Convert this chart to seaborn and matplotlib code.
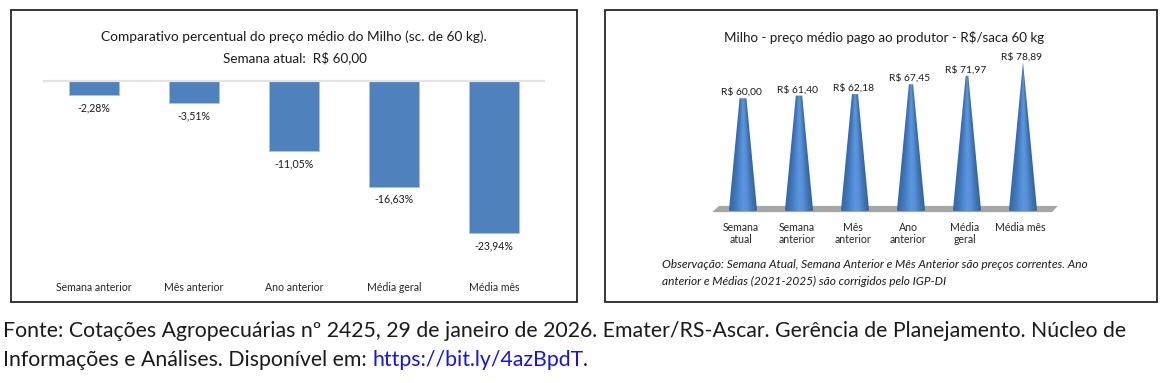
import numpy as np
import pandas as pd
import matplotlib
matplotlib.use('Agg')
import matplotlib.pyplot as plt
from matplotlib.colors import LinearSegmentedColormap
from matplotlib.patches import Polygon, Rectangle
from matplotlib.transforms import ScaledTranslation
import seaborn as sns

# values
pct_labels = ['Semana anterior', 'Mês anterior', 'Ano anterior', 'Média geral', 'Média mês']
pct_values = [-2.28, -3.51, -11.05, -16.63, -23.94]
price_labels = ['Semana\natual', 'Semana\nanterior', 'Mês\nanterior', 'Ano\nanterior', 'Média\ngeral', 'Média mês']
price_values = [60.00, 61.40, 62.18, 67.45, 71.97, 78.89]

W, H = 1170, 383

sns.set_theme(style='white')
plt.rcParams['font.family'] = ['Lato', 'DejaVu Sans']
plt.rcParams['text.color'] = '#1a1a1a'


def px_axes(fig, x0, y0, x1, y1):
    # pixel box, y measured from the top of the image
    return fig.add_axes([x0 / W, 1 - y1 / H, (x1 - x0) / W, (y1 - y0) / H])


def br(v, prefix='', suffix=''):
    return prefix + f'{v:.2f}'.replace('.', ',') + suffix


fig = plt.figure(figsize=(W / 100, H / 100), dpi=100, facecolor='white')

# panel frames
for x0, x1 in [(11, 577), (605, 1157)]:
    fig.add_artist(Rectangle((x0 / W, 1 - 302 / H), (x1 - x0) / W, 292 / H,
                             transform=fig.transFigure, fill=False,
                             edgecolor='#262626', linewidth=1.3))

# ---- left chart
ax = px_axes(fig, 44, 81, 544, 275)
df = pd.DataFrame({'cat': pct_labels, 'val': pct_values})
sns.barplot(data=df, x='cat', y='val', color='#4f81bd', saturation=1, width=0.5,
            edgecolor='#a9c3e2', linewidth=0.6, ax=ax)
ax.set_ylim(-30.55, 0)
ax.set_xlim(-0.5, 4.5)
ax.set_xlabel('')
ax.set_ylabel('')
ax.set_yticks([])
ax.tick_params(axis='x', length=0, labelsize=7.6, pad=5)
for s in ['left', 'right', 'bottom']:
    ax.spines[s].set_visible(False)
ax.spines['top'].set_color('#e4e4e4')
ax.spines['top'].set_linewidth(1.6)
ax.patch.set_alpha(0)
ax.bar_label(ax.containers[0], labels=[br(v, suffix='%') for v in pct_values],
             padding=5, fontsize=7.6)

fig.text(294 / W, 1 - 37 / H, 'Comparativo percentual do preço médio do Milho (sc. de 60 kg).',
         ha='center', va='center', fontsize=9.85)
fig.text(295 / W, 1 - 58 / H, 'Semana atual:  R$ 60,00', ha='center', va='center', fontsize=9.75)

# ---- right chart
ax2 = px_axes(fig, 715, 55, 1051, 211)
df2 = pd.DataFrame({'cat': price_labels, 'val': price_values})
sns.barplot(data=df2, x='cat', y='val', color='#4f81bd', width=0.5, alpha=0, ax=ax2)
ax2.set_xlim(-0.5, 5.5)
ax2.set_ylim(0, 83)
ax2.set_xlabel('')
ax2.set_ylabel('')
ax2.set_yticks([])
ax2.tick_params(axis='x', length=0, labelsize=7.6, pad=8)
shift = ScaledTranslation(-2.5 / 100, 0, fig.dpi_scale_trans)
for lab in ax2.get_xticklabels():
    lab.set_verticalalignment('top')
    lab.set_linespacing(1.15)
    lab.set_transform(lab.get_transform() + shift)
sns.despine(ax=ax2, left=True, bottom=True)
ax2.patch.set_alpha(0)

# grey floor under the cones
ax2.add_patch(Polygon([(-0.55, -0.6), (5.52, -0.6), (5.62, 2.7), (-0.43, 2.7)],
                      closed=True, facecolor='#a6a6a6', edgecolor='none',
                      clip_on=False, zorder=1))

cone_cmap = LinearSegmentedColormap.from_list(
    'cone', ['#3567a8', '#4074b8', '#4d86cc', '#5c96de', '#588fd6', '#4277b8', '#3465a0'])
tip = max(price_values) * 1.005
half_base = 0.25
for patch, v in zip(ax2.patches, price_values):
    c = patch.get_x() + patch.get_width() / 2
    top_half = half_base * (1 - v / tip)
    # outline: tapered sides with a rounded foot
    arc = np.linspace(np.pi, 2 * np.pi, 30)
    foot = np.column_stack([c + half_base * np.cos(arc), 0.6 + 1.6 * np.sin(arc)])
    outline = np.vstack([foot, [c + top_half, v], [c - top_half, v]])
    clip = Polygon(outline, closed=True, transform=ax2.transData, facecolor='none', edgecolor='none')
    ax2.add_patch(clip)
    # shading follows the taper, so each row runs edge to edge
    yy, xx = np.mgrid[1:0:200j, -half_base:half_base:100j]
    half_row = half_base - (half_base - top_half) * yy
    shade = np.clip((xx / half_row + 1) / 2, 0, 1)
    im = ax2.imshow(shade, cmap=cone_cmap, vmin=0, vmax=1, aspect='auto', zorder=3,
                    extent=(c - half_base, c + half_base, -1.1, v), interpolation='bilinear')
    im.set_clip_path(clip)
    ax2.annotate(br(v, prefix='R$ '), (c - 0.03, v), xytext=(0, 1), textcoords='offset points',
                 ha='center', va='bottom', fontsize=7.4, annotation_clip=False)
ax2.set_xlim(-0.5, 5.5)
ax2.set_ylim(0, 83)

fig.text(884 / W, 1 - 37 / H, 'Milho - preço médio pago ao produtor - R$/saca 60 kg',
         ha='center', va='center', fontsize=9.6)
fig.text(662 / W, 1 - 265 / H, 'Observação: Semana Atual, Semana Anterior e Mês Anterior são preços correntes. Ano',
         ha='left', va='center', fontsize=8.55, style='italic')
fig.text(662 / W, 1 - 281 / H, 'anterior e Médias (2021-2025) são corrigidos pelo IGP-DI',
         ha='left', va='center', fontsize=8.55, style='italic')

# ---- source note
fig.text(3 / W, 1 - 331 / H,
         'Fonte: Cotações Agropecuárias nº 2425, 29 de janeiro de 2026. Emater/RS-Ascar. Gerência de Planejamento. Núcleo de',
         ha='left', va='center', fontsize=15.35)
t1 = fig.text(3 / W, 1 - 360 / H, 'Informações e Análises. Disponível em: ', ha='left', va='center', fontsize=15.35)
t2 = plt.annotate('https://bit.ly/4azBpdT', xy=(1, 0), xycoords=t1, va='bottom', fontsize=15.35,
                  color='#1414e6', annotation_clip=False)
plt.annotate('.', xy=(1, 0), xycoords=t2, va='bottom', fontsize=15.35, annotation_clip=False)

fig.savefig('out.png', dpi=100)
